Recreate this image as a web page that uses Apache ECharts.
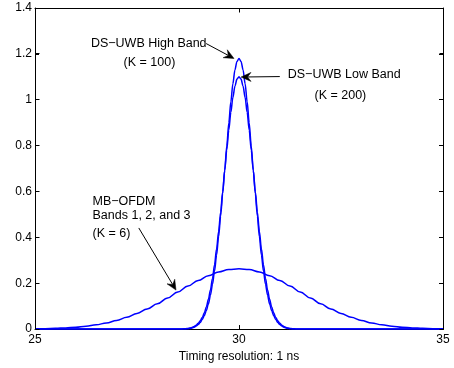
<!DOCTYPE html>
<html>
<head>
<meta charset="utf-8">
<script src="https://cdn.jsdelivr.net/npm/echarts@6/dist/echarts.min.js"></script>
<style>
html,body{margin:0;padding:0;background:#fff;}
#c{width:454px;height:368px;}
</style>
</head>
<body>
<div id="c"></div>
<script>
// x positions for the narrow DS-UWB pulses (ns)
var uwbX = [25, 28.4, 28.6, 28.7, 28.75, 28.8, 28.85, 28.9, 28.95, 29.0, 29.05, 29.1, 29.15, 29.2, 29.25, 29.3, 29.35, 29.4, 29.45, 29.5, 29.55, 29.6, 29.65, 29.7, 29.75, 29.8, 29.85, 29.9, 29.95, 30,
  30.05, 30.1, 30.15, 30.2, 30.25, 30.3, 30.35, 30.4, 30.45, 30.5, 30.55, 30.6, 30.65, 30.7, 30.75, 30.8, 30.85, 30.9, 30.95, 31.0, 31.05, 31.1, 31.15, 31.2, 31.25, 31.3, 31.4, 31.6, 35];
// DS-UWB High Band (K = 100)
var highBand = [0, 0, 0.0002, 0.0008, 0.0015, 0.003, 0.005, 0.008, 0.013, 0.020, 0.029, 0.042, 0.059, 0.081, 0.110, 0.148, 0.195, 0.253, 0.322, 0.403, 0.493, 0.591, 0.694, 0.798, 0.899, 0.991, 1.070, 1.130, 1.167, 1.180,
  1.167, 1.130, 1.070, 0.991, 0.899, 0.798, 0.694, 0.591, 0.493, 0.403, 0.322, 0.253, 0.195, 0.148, 0.110, 0.081, 0.059, 0.042, 0.029, 0.020, 0.013, 0.008, 0.005, 0.003, 0.0015, 0.0008, 0.0002, 0, 0];
// DS-UWB Low Band (K = 200)
var lowBand = [0, 0, 0.0006, 0.0018, 0.003, 0.005, 0.0075, 0.0115, 0.017, 0.025, 0.036, 0.051, 0.071, 0.097, 0.130, 0.171, 0.221, 0.281, 0.349, 0.426, 0.510, 0.599, 0.691, 0.782, 0.868, 0.945, 1.010, 1.059, 1.090, 1.100,
  1.090, 1.059, 1.010, 0.945, 0.868, 0.782, 0.691, 0.599, 0.510, 0.426, 0.349, 0.281, 0.221, 0.171, 0.130, 0.097, 0.071, 0.051, 0.036, 0.025, 0.017, 0.0115, 0.0075, 0.005, 0.003, 0.0018, 0.0006, 0, 0];
// x positions for MB-OFDM
var ofdmX = [25, 25.25, 25.5, 25.75, 26, 26.25, 26.5, 26.75, 27, 27.25, 27.5, 27.75, 28, 28.25, 28.5, 28.75, 29, 29.25, 29.5, 29.75, 30,
  30.25, 30.5, 30.75, 31, 31.25, 31.5, 31.75, 32, 32.25, 32.5, 32.75, 33, 33.25, 33.5, 33.75, 34, 34.25, 34.5, 34.75, 35];
// MB-OFDM Bands 1, 2, and 3 (K = 6)
var ofdm = [0.0012, 0.0020, 0.0033, 0.0053, 0.0082, 0.0125, 0.0186, 0.0267, 0.0375, 0.0512, 0.0680, 0.0879, 0.1107, 0.1356, 0.1616, 0.1876, 0.2118, 0.2329, 0.2491, 0.2595, 0.263,
  0.2595, 0.2491, 0.2329, 0.2118, 0.1876, 0.1616, 0.1356, 0.1107, 0.0879, 0.0680, 0.0512, 0.0375, 0.0267, 0.0186, 0.0125, 0.0082, 0.0053, 0.0033, 0.0020, 0.0012];

var xTicks = [25, 30, 35];
var yTicks = [0, 0.2, 0.4, 0.6, 0.8, 1, 1.2, 1.4];
var xTitle = 'Timing resolution: 1 ns';

// annotation texts: [text, x (left edge), y (centre)] in data units
var notes = [
  ['DS\u2212UWB High Band', 26.37, 1.245],
  ['(K = 100)', 27.17, 1.163],
  ['DS\u2212UWB Low Band', 31.195, 1.111],
  ['(K = 200)', 31.85, 1.019],
  ['MB\u2212OFDM', 26.41, 0.558],
  ['Bands 1, 2, and 3', 26.41, 0.494],
  ['(K = 6)', 26.41, 0.416]
];
// arrows: [from, to] in data units
var arrows = [
  [[29.195, 1.245], [29.878, 1.180]],
  [[31.0, 1.101], [30.05, 1.099]],
  [[27.544, 0.441], [28.456, 0.170]]
];

function pairs(xs, ys) { return xs.map(function (x, i) { return [x, ys[i]]; }); }

var FONT = '"Liberation Sans", Arial, Helvetica, sans-serif';
var chart = echarts.init(document.getElementById('c'));

function axisBase(extra) {
  var o = {
    type: 'value',
    axisLine: { show: true, lineStyle: { color: '#000', width: 1 } },
    axisTick: { show: true, inside: true, length: 4, lineStyle: { color: '#000', width: 1 } },
    splitLine: { show: false }
  };
  for (var k in extra) o[k] = extra[k];
  return o;
}
function blank() { return ''; }

var lineStyle = { color: '#0000ff', width: 1.5 };
function series(name, data, smooth, xi, yi) {
  return {
    name: name, type: 'line', data: data, showSymbol: false, symbol: 'none',
    smooth: smooth, smoothMonotone: 'x',
    lineStyle: lineStyle, itemStyle: { color: '#0000ff' },
    xAxisIndex: xi, yAxisIndex: yi
  };
}

var option = {
  animation: false,
  grid: { left: 35, right: 9, top: 8, bottom: 37 },
  xAxis: [
    axisBase({
      min: 25, max: 35, interval: 5,
      axisLabel: { color: '#000', fontSize: 12, fontFamily: FONT, margin: 5,
        formatter: function (v) { return xTicks.indexOf(v) >= 0 ? String(v) : ''; } },
      name: xTitle, nameLocation: 'middle', nameGap: 19,
      nameTextStyle: { color: '#000', fontSize: 12, fontFamily: FONT }
    }),
    axisBase({
      min: 25, max: 35, interval: 5, position: 'top', axisLabel: { formatter: blank },
      axisLine: { show: true, onZero: false, lineStyle: { color: '#000', width: 1 } }
    })
  ],
  yAxis: [
    axisBase({
      min: 0, max: 1.4, interval: 0.2,
      axisLabel: { color: '#000', fontSize: 12, fontFamily: FONT, margin: 3,
        formatter: function (v) {
          var r = Math.round(v * 10) / 10;
          return yTicks.indexOf(r) >= 0 ? String(r) : '';
        } }
    }),
    axisBase({
      min: 0, max: 1.4, interval: 0.2, position: 'right', axisLabel: { formatter: blank },
      axisLine: { show: true, onZero: false, lineStyle: { color: '#000', width: 1 } }
    })
  ],
  series: [
    series('DS-UWB High Band', pairs(uwbX, highBand), 0.3, 0, 0),
    series('DS-UWB Low Band', pairs(uwbX, lowBand), 0.3, 0, 0),
    series('MB-OFDM', pairs(ofdmX, ofdm), 0.4, 1, 1)
  ]
};
chart.setOption(option);

function px(p) { return chart.convertToPixel({ xAxisIndex: 0, yAxisIndex: 0 }, p); }
function crisp(v) { return Math.round(v - 0.5) + 0.5; }
var g = [];
function seg(x1, y1, x2, y2, z) {
  g.push({ type: 'line', silent: true, z: z || 90,
    shape: { x1: x1, y1: y1, x2: x2, y2: y2 }, style: { stroke: '#000', lineWidth: 1 } });
}
// frame (box) and inward ticks on all four sides
var bl = px([25, 0]), tr = px([35, 1.4]);
var L0 = crisp(bl[0]), R0 = crisp(tr[0]), T0 = crisp(tr[1]), B0 = crisp(bl[1]);
seg(L0, T0, R0, T0);
seg(R0, T0, R0, B0);
xTicks.forEach(function (v) {
  var x = crisp(px([v, 0])[0]);
  seg(x, B0, x, B0 - 4);
  seg(x, T0, x, T0 + 4);
});
yTicks.forEach(function (v) {
  var y = crisp(px([25, v])[1]);
  seg(L0, y, L0 + 4, y);
  seg(R0, y, R0 - 4, y);
});

notes.forEach(function (n) {
  var p = px([n[1], n[2]]);
  g.push({
    type: 'text', silent: true, z: 100,
    style: { text: n[0], x: p[0], y: p[1], fill: '#000', font: '12.5px ' + FONT,
      align: 'left', verticalAlign: 'middle' }
  });
});
arrows.forEach(function (a) {
  var s = px(a[0]), e = px(a[1]);
  var dx = e[0] - s[0], dy = e[1] - s[1];
  var L = Math.sqrt(dx * dx + dy * dy);
  var ux = dx / L, uy = dy / L, nx = -uy, ny = ux;
  var hl = 10, hw = 4.5, notch = 6.5;
  var back = [e[0] - ux * hl, e[1] - uy * hl];
  seg(s[0], s[1], e[0] - ux * notch, e[1] - uy * notch, 100);
  g.push({
    type: 'polygon', silent: true, z: 101,
    shape: { points: [
      [e[0], e[1]],
      [back[0] + nx * hw, back[1] + ny * hw],
      [e[0] - ux * notch, e[1] - uy * notch],
      [back[0] - nx * hw, back[1] - ny * hw]
    ] },
    style: { fill: '#000', stroke: '#000', lineWidth: 0.5 }
  });
});
chart.setOption({ graphic: { elements: g } });
</script>
</body>
</html>
